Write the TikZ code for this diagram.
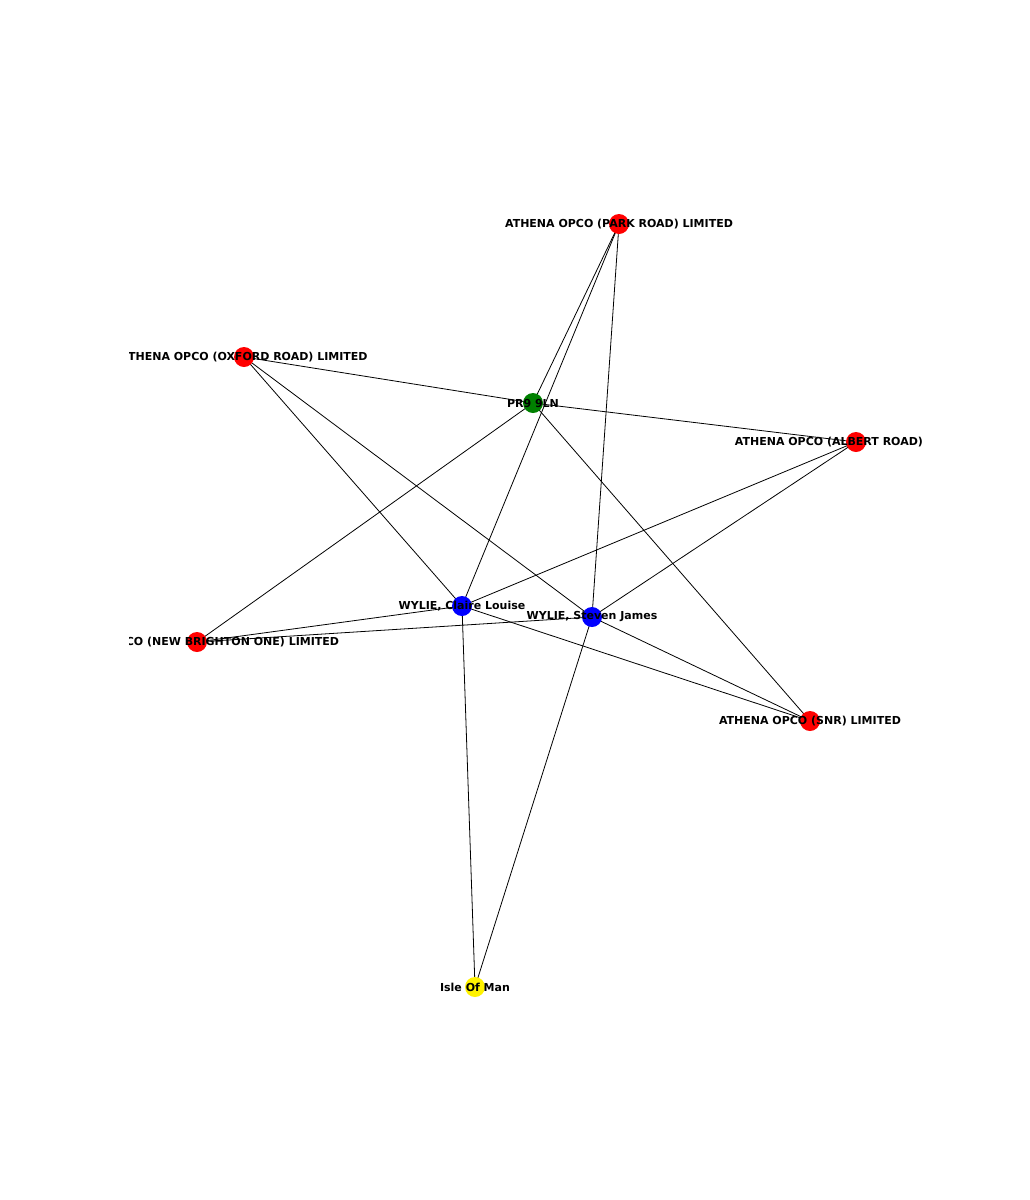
\documentclass[tikz,border=0pt]{standalone}
\usepackage{fontspec}
\setmainfont{DejaVu Sans}
\begin{document}
\begin{tikzpicture}[x=1pt,y=-1pt,
  dot/.style={circle,minimum size=20pt,inner sep=0pt},
  lab/.style={font=\bfseries\fontsize{11}{13}\selectfont,inner sep=0pt},
  edge/.style={draw=black,line width=0.8pt}]
\useasboundingbox (0,0) rectangle (1029,1200);
\coordinate (park) at (619,224);
\coordinate (oxford) at (244,357);
\coordinate (pr) at (533,403);
\coordinate (albert) at (856,442);
\coordinate (claire) at (462,606);
\coordinate (steven) at (592,617);
\coordinate (newb) at (197,642);
\coordinate (snr) at (810,721);
\coordinate (iom) at (475,987);
\foreach \a/\b in {park/pr,park/claire,park/steven,oxford/pr,oxford/claire,oxford/steven,pr/albert,pr/newb,pr/snr,albert/claire,albert/steven,newb/claire,newb/steven,snr/claire,snr/steven,iom/claire,iom/steven}
  \draw[edge] (\a) -- (\b);
\foreach \n/\c in {park/red,oxford/red,pr/green!50!black,albert/red,claire/blue,steven/blue,newb/red,snr/red,iom/yellow}
  \node[dot,fill=\c] (\n-d) at (\n) {};
\begin{scope}
\clip (129,140) rectangle (926,1060);
\node[lab] (l1) at (park) {ATHENA OPCO (PARK ROAD) LIMITED};
\node[lab] (l2) at (oxford) {ATHENA OPCO (OXFORD ROAD) LIMITED};
\node[lab] (l3) at (pr) {PR9 9LN};
\node[lab] (l4) at (albert) {ATHENA OPCO (ALBERT ROAD) LIMITED};
\node[lab] (l5) at (claire) {WYLIE, Claire Louise};
\node[lab] (l6) at (steven) {WYLIE, Steven James};
\node[lab] (l7) at (newb) {ATHENA OPCO (NEW BRIGHTON ONE) LIMITED};
\node[lab] (l8) at (snr) {ATHENA OPCO (SNR) LIMITED};
\node[lab] (l9) at (iom) {Isle Of Man};
\end{scope}
\end{tikzpicture}
\end{document}
